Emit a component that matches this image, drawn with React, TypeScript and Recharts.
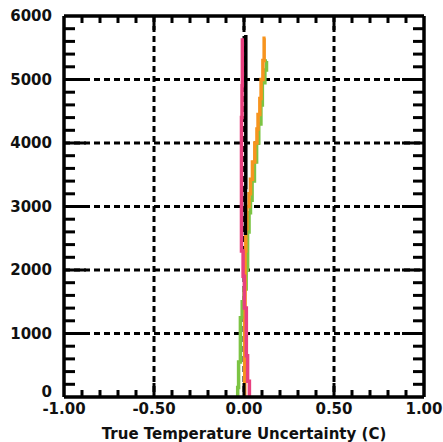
import { ComposedChart, Line, XAxis, YAxis, CartesianGrid, Label } from 'recharts'

// profiles: altitude (m) vs uncertainty (C)
const pinkAlt = [0, 250, 650, 1400, 1900, 2300, 4400, 4900, 5650]
const pinkU = [0.03, 0.02, 0.013, 0.002, -0.005, -0.014, -0.011, -0.009, -0.009]

const blackAlt = [2550, 3300, 5700]
const blackU = [0.008, 0.01, 0.01]

const orangeAlt = [0, 1200, 2300, 2650, 3000, 3200, 3430, 3700, 4000, 4220, 4450, 4700, 5000, 5300, 5650]
const orangeU = [0.004, 0.006, 0.01, 0.016, 0.028, 0.036, 0.047, 0.06, 0.072, 0.078, 0.088, 0.095, 0.105, 0.112, 0.12]

const greenAlt = [0, 150, 550, 1250, 1500, 1700, 2000, 2600, 2900, 3100, 3400, 3700, 4000, 4300, 4600, 4950, 5150, 5290]
const greenU = [-0.035, -0.03, -0.02, -0.01, 0.0, 0.012, 0.02, 0.028, 0.036, 0.045, 0.058, 0.07, 0.082, 0.094, 0.102, 0.116, 0.125, 0.128]

const xTicks = [-1, -0.9, -0.8, -0.7, -0.6, -0.5, -0.4, -0.3, -0.2, -0.1, 0, 0.1, 0.2, 0.3, 0.4, 0.5, 0.6, 0.7, 0.8, 0.9, 1]
const xMajor = [-1, -0.5, 0, 0.5, 1]
const yTicks = [
  0, 200, 400, 600, 800, 1000, 1200, 1400, 1600, 1800, 2000, 2200, 2400, 2600, 2800, 3000,
  3200, 3400, 3600, 3800, 4000, 4200, 4400, 4600, 4800, 5000, 5200, 5400, 5600, 5800, 6000,
]
const yMajor = [0, 1000, 2000, 3000, 4000, 5000, 6000]

const toPoints = (alt: number[], u: number[]) => alt.map((a, i) => ({ alt: a, u: u[i] }))

const W = 443
const H = 442
const M = { top: 16, right: 19, bottom: 0, left: 0 }
const PLOT_TOP = M.top
const PLOT_RIGHT = W - M.right

const FONT = '"DejaVu Sans", Verdana, sans-serif'

const isMajorX = (v: number) => xMajor.some((m) => Math.abs(m - v) < 1e-6)

// bottom tick also draws the matching tick on the top frame; all ticks point inward
function XTick(props: any) {
  const { x, y, payload } = props
  const v = payload.value
  const major = isMajorX(v)
  const inner = v !== -1 && v !== 1
  const len = major ? 14 : 7
  return (
    <g>
      {inner && <line x1={x} y1={y} x2={x} y2={y - len} stroke="#000" strokeWidth={3} />}
      {inner && <line x1={x} y1={PLOT_TOP} x2={x} y2={PLOT_TOP + len} stroke="#000" strokeWidth={3} />}
      {major && (
        <text x={x} y={y + 17} textAnchor="middle" fontSize={15} fontWeight="bold" fill="#111" fontFamily={FONT}>
          {v.toFixed(2)}
        </text>
      )}
    </g>
  )
}

// left tick also draws the matching tick on the right frame
function YTick(props: any) {
  const { x, y, payload } = props
  const v = payload.value
  const major = yMajor.includes(v)
  const inner = v !== 0 && v !== 6000
  const len = major ? 22 : 11
  return (
    <g>
      {inner && <line x1={x} y1={y} x2={x + len} y2={y} stroke="#000" strokeWidth={3} />}
      {inner && <line x1={PLOT_RIGHT} y1={y} x2={PLOT_RIGHT - len} y2={y} stroke="#000" strokeWidth={3} />}
      {major && (
        <text x={x - 12} y={v === 0 ? y : y + 5} textAnchor="end" fontSize={15} fontWeight="bold" fill="#111" fontFamily={FONT}>
          {v}
        </text>
      )}
    </g>
  )
}

const axisLine = { stroke: '#000', strokeWidth: 3.5 }

export default function App() {
  return (
    <div style={{ position: 'absolute', left: 0, top: 0, width: W, height: H, background: '#fff' }}>
      <ComposedChart width={W} height={H} margin={M}>
        <CartesianGrid
          stroke="#000"
          strokeWidth={3}
          strokeDasharray="6 4"
          verticalValues={[-0.5, 0, 0.5]}
          horizontalValues={[1000, 2000, 3000, 4000, 5000]}
        />
        {/* top and right edges of the frame */}
        <CartesianGrid stroke="#000" strokeWidth={3.5} verticalValues={[1]} horizontalValues={[6000]} />
        <Line
          data={toPoints(greenAlt, greenU)}
          dataKey="alt"
          type="stepBefore"
          stroke="#7cc443"
          strokeWidth={3.5}
          dot={false}
          isAnimationActive={false}
        />
        <Line
          data={toPoints(orangeAlt, orangeU)}
          dataKey="alt"
          type="stepBefore"
          stroke="#f7941e"
          strokeWidth={3.5}
          dot={false}
          isAnimationActive={false}
        />
        <Line
          data={toPoints(pinkAlt, pinkU)}
          dataKey="alt"
          type="stepBefore"
          stroke="#e8407f"
          strokeWidth={3.5}
          dot={false}
          isAnimationActive={false}
        />
        <Line
          data={toPoints(blackAlt, blackU)}
          dataKey="alt"
          type="stepBefore"
          stroke="#000"
          strokeWidth={3.5}
          dot={false}
          isAnimationActive={false}
        />
        <XAxis
          dataKey="u"
          type="number"
          domain={[-1, 1]}
          ticks={xTicks}
          interval={0}
          height={45}
          tickSize={0}
          tickMargin={0}
          tickLine={false}
          axisLine={axisLine}
          tick={<XTick />}
        >
          <Label
            value="True Temperature Uncertainty (C)"
            position="insideBottom"
            offset={3}
            style={{ fontSize: 15, fontWeight: 'bold', fill: '#111', fontFamily: FONT }}
          />
        </XAxis>
        <YAxis
          dataKey="alt"
          type="number"
          domain={[0, 6000]}
          ticks={yTicks}
          interval={0}
          width={64}
          tickSize={0}
          tickMargin={0}
          tickLine={false}
          axisLine={axisLine}
          tick={<YTick />}
        />
      </ComposedChart>
    </div>
  )
}
